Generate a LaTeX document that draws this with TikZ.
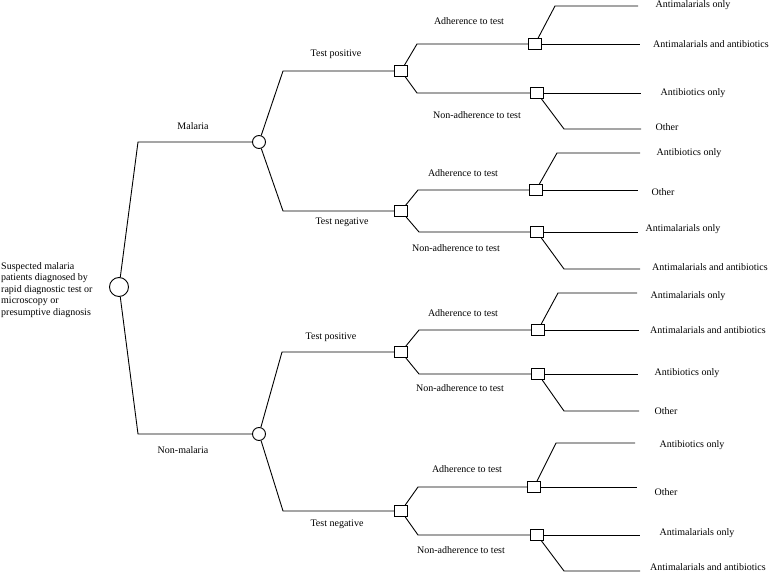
\documentclass[tikz,border=0pt]{standalone}
\usepackage{fontspec}
\setmainfont{Liberation Serif}
\begin{document}
\begin{tikzpicture}[x=1pt,y=-1pt,
  font=\fontsize{10}{11.5}\selectfont,
  line/.style={line width=0.9pt, black},
  chance/.style={circle, draw=black, line width=0.9pt, fill=white, inner sep=0pt, minimum size=#1},
  decision/.style={rectangle, draw=black, line width=0.9pt, fill=white, inner sep=0pt, minimum width=13pt, minimum height=11pt},
  lbl/.style={inner sep=0pt}]
\useasboundingbox (0,0) rectangle (777,572);

% root
\node[lbl, anchor=west, align=left] (roottext) at (1,290) {Suspected malaria\\patients diagnosed by\\rapid diagnostic test or\\microscopy or\\presumptive diagnosis};
\node[chance=19pt] (root) at (119,287) {};
\coordinate (cM) at (138,142);
\coordinate (cN) at (138,434);
\node[chance=13pt] (mal) at (259,142) {};
\node[chance=13pt] (non) at (259,434) {};
\draw[line] (root) -- (cM) -- (mal);
\draw[line] (root) -- (cN) -- (non);
\node[lbl] (lmal) at (193,126) {Malaria};
\node[lbl] (lnon) at (183,450) {Non-malaria};

% test level
\coordinate (c1) at (283,71);
\coordinate (c2) at (283,211);
\coordinate (c3) at (282,352);
\coordinate (c4) at (283,511);
\node[decision] (d1) at (401,71) {};
\node[decision] (d2) at (401,211) {};
\node[decision] (d3) at (401,352) {};
\node[decision] (d4) at (401,511) {};
\draw[line] (mal) -- (c1) -- (d1);
\draw[line] (mal) -- (c2) -- (d2);
\draw[line] (non) -- (c3) -- (d3);
\draw[line] (non) -- (c4) -- (d4);
\node[lbl] (ltp1) at (336,54) {Test positive};
\node[lbl] (ltn1) at (342,222) {Test negative};
\node[lbl] (ltp2) at (331,337) {Test positive};
\node[lbl] (ltn2) at (337,524) {Test negative};

% subtree 1
\coordinate (a1) at (417,44);
\coordinate (n1) at (417,93);
\node[decision] (s1a) at (535,44) {};
\node[decision] (s1n) at (537,93) {};
\draw[line] (d1) -- (a1) -- (s1a);
\draw[line] (d1) -- (n1) -- (s1n);
\coordinate (u1) at (555,6);  \coordinate (u1e) at (638,6);
\coordinate (m1e) at (640,44);
\coordinate (k1e) at (641,93);
\coordinate (w1) at (564,129); \coordinate (w1e) at (641,129);
\draw[line] (s1a) -- (u1) -- (u1e);
\draw[line] (s1a) -- (m1e);
\draw[line] (s1n) -- (k1e);
\draw[line] (s1n) -- (w1) -- (w1e);
\node[lbl] (la1) at (469,21) {Adherence to test};
\node[lbl] (ln1) at (477,115) {Non-adherence to test};
\node[lbl] (l11) at (693,5) {Antimalarials only};
\node[lbl] (l12) at (711,44) {Antimalarials and antibiotics};
\node[lbl] (l13) at (693,93) {Antibiotics only};
\node[lbl] (l14) at (667,127) {Other};

% subtree 2
\coordinate (a2) at (418,190);
\coordinate (n2) at (419,232);
\node[decision] (s2a) at (536,190) {};
\node[decision] (s2n) at (537,232) {};
\draw[line] (d2) -- (a2) -- (s2a);
\draw[line] (d2) -- (n2) -- (s2n);
\coordinate (u2) at (557,153); \coordinate (u2e) at (640,153);
\coordinate (m2e) at (638,190);
\coordinate (k2e) at (638,232);
\coordinate (w2) at (564,269); \coordinate (w2e) at (640,269);
\draw[line] (s2a) -- (u2) -- (u2e);
\draw[line] (s2a) -- (m2e);
\draw[line] (s2n) -- (k2e);
\draw[line] (s2n) -- (w2) -- (w2e);
\node[lbl] (la2) at (463,173) {Adherence to test};
\node[lbl] (ln2) at (456,248) {Non-adherence to test};
\node[lbl] (l21) at (689,153) {Antibiotics only};
\node[lbl] (l22) at (663,192) {Other};
\node[lbl] (l23) at (683,229) {Antimalarials only};
\node[lbl] (l24) at (710,267) {Antimalarials and antibiotics};

% subtree 3
\coordinate (a3) at (419,330);
\coordinate (n3) at (419,374);
\node[decision] (s3a) at (538,330) {};
\node[decision] (s3n) at (538,374) {};
\draw[line] (d3) -- (a3) -- (s3a);
\draw[line] (d3) -- (n3) -- (s3n);
\coordinate (u3) at (558,293); \coordinate (u3e) at (637,293);
\coordinate (m3e) at (639,330);
\coordinate (k3e) at (638,374);
\coordinate (w3) at (564,411); \coordinate (w3e) at (639,411);
\draw[line] (s3a) -- (u3) -- (u3e);
\draw[line] (s3a) -- (m3e);
\draw[line] (s3n) -- (k3e);
\draw[line] (s3n) -- (w3) -- (w3e);
\node[lbl] (la3) at (463,313) {Adherence to test};
\node[lbl] (ln3) at (460,388) {Non-adherence to test};
\node[lbl] (l31) at (688,296) {Antimalarials only};
\node[lbl] (l32) at (708,330) {Antimalarials and antibiotics};
\node[lbl] (l33) at (687,373) {Antibiotics only};
\node[lbl] (l34) at (666,411) {Other};

% subtree 4
\coordinate (a4) at (418,487);
\coordinate (n4) at (418,535);
\node[decision] (s4a) at (534,487) {};
\node[decision] (s4n) at (537,535) {};
\draw[line] (d4) -- (a4) -- (s4a);
\draw[line] (d4) -- (n4) -- (s4n);
\coordinate (u4) at (556,443); \coordinate (u4e) at (635,443);
\coordinate (m4e) at (637,487);
\coordinate (k4e) at (640,535);
\coordinate (w4) at (564,571); \coordinate (w4e) at (640,571);
\draw[line] (s4a) -- (u4) -- (u4e);
\draw[line] (s4a) -- (m4e);
\draw[line] (s4n) -- (k4e);
\draw[line] (s4n) -- (w4) -- (w4e);
\node[lbl] (la4) at (467,469) {Adherence to test};
\node[lbl] (ln4) at (461,550) {Non-adherence to test};
\node[lbl] (l41) at (692,445) {Antibiotics only};
\node[lbl] (l42) at (666,492) {Other};
\node[lbl] (l43) at (697,533) {Antimalarials only};
\node[lbl] (l44) at (708,567) {Antimalarials and antibiotics};
\end{tikzpicture}
\end{document}
